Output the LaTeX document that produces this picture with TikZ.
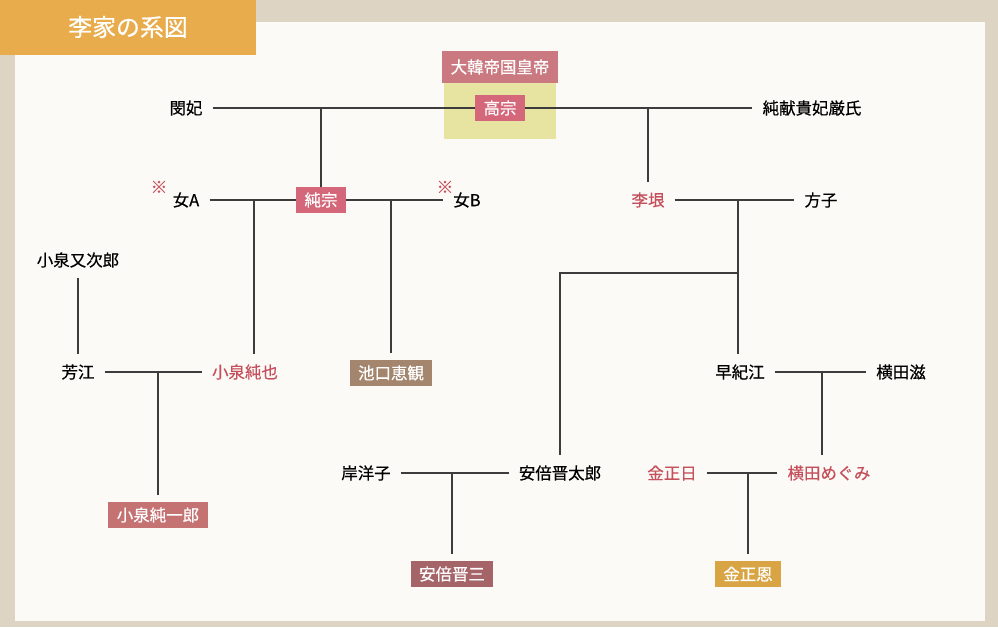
\documentclass[tikz,border=0pt]{standalone}
\usepackage{fontspec}
\setmainfont{Noto Sans CJK JP}[FakeBold=0.5]
\usepackage{tikz}

\definecolor{bgtan}{RGB}{221,212,196}
\definecolor{paper}{RGB}{252,250,247}
\definecolor{titleorange}{RGB}{232,172,76}
\definecolor{eraYellow}{RGB}{231,227,160}
\definecolor{emperorRose}{RGB}{201,121,127}
\definecolor{kingPink}{RGB}{212,103,121}
\definecolor{koizumiRose}{RGB}{197,114,115}
\definecolor{monkBrown}{RGB}{164,133,110}
\definecolor{abeRose}{RGB}{165,101,104}
\definecolor{kimGold}{RGB}{217,164,68}
\definecolor{nameRed}{RGB}{197,80,92}
\definecolor{lineGray}{RGB}{60,60,60}

\newcommand{\namesize}{\fontsize{11.7}{14}\selectfont}

\tikzset{
    person/.style={font=\namesize, inner xsep=0.25cm, inner ysep=7pt},
    redperson/.style={person, text=nameRed},
    boxed/.style={font=\namesize, text=white, inner xsep=0.21cm, inner ysep=0pt, minimum height=0.65cm},
    link/.style={draw=lineGray, line width=0.8pt},
    tobox/.style={link, shorten >=0.18cm},
    note/.style={font=\fontsize{12}{13}\selectfont, text=nameRed, inner sep=0pt}
}

\begin{document}
\begin{tikzpicture}[x=0.025cm, y=-0.025cm]
            \useasboundingbox (0,0) rectangle (998,627);
            \fill[bgtan] (0,0) rectangle (998,627);
            \fill[paper] (15,22) rectangle (985,621);
            \fill[titleorange] (0,0) rectangle (256,55);
            \node[font=\fontsize{17}{20}\selectfont, text=white] (title) at (128,27) {李家の系図};

            \begin{scope}
                \node[fill=eraYellow, minimum width=2.8cm, minimum height=1.4cm, inner sep=0pt] (era) at (500,111) {};
                \node[boxed, fill=emperorRose, minimum width=2.8cm, minimum height=0.8cm] (emperor) at (500,67) {大韓帝国皇帝};
                \node[boxed, fill=kingPink] (gojong) at (500,108) {高宗};
                \node[person] (minbi) at (186,108) {閔妃};
                \node[person] (lady) at (812,108) {純献貴妃厳氏};
                \draw[link] (minbi) -- (gojong);
                \draw[link] (gojong) -- (lady);
            \end{scope}

            \begin{scope}
                \node[person] (womanA) at (186,200) {女A};
                \node[boxed, fill=kingPink] (sunjong) at (321,200) {純宗};
                \node[person] (womanB) at (467,200) {女B};
                \node[note] (noteA) at (159,187) {※};
                \node[note] (noteB) at (445,187) {※};
                \node[redperson] (yeongchin) at (648,200) {李垠};
                \node[person] (masako) at (821,200) {方子};
                \draw[link] (womanA) -- (sunjong);
                \draw[link] (sunjong) -- (womanB);
                \draw[link] (yeongchin) -- (masako);
                \draw[link] (sunjong.north |- gojong) -- (sunjong.north);
                \draw[link] (yeongchin.north |- gojong) -- (yeongchin.north);
                \coordinate (dropA) at (254,200);
                \coordinate (dropB) at (391,200);
                \coordinate (dropC) at (738,200);
                \coordinate (fork) at (738,273);
            \end{scope}

            \begin{scope}
                \node[person] (matajiro) at (78,260) {小泉又次郎};
                \node[person] (yoshie) at (78,372) {芳江};
                \node[redperson] (junya) at (245,372) {小泉純也};
                \node[boxed, fill=monkBrown] (ikeguchi) at (391,373) {池口恵観};
                \node[person] (sakie) at (740,372) {早紀江};
                \node[person] (shigeru) at (901,372) {横田滋};
                \draw[link] (matajiro) -- (yoshie);
                \draw[link] (yoshie) -- (junya);
                \draw[link] (sakie) -- (shigeru);
                \draw[link] (dropA) -- (dropA |- junya.north);
                \draw[tobox] (dropB) -- (ikeguchi.north);
                \draw[link] (dropC) -- (dropC |- sakie.north);
                \coordinate (dropD) at (158,372);
                \coordinate (dropE) at (822,372);
            \end{scope}

            \begin{scope}
                \node[person] (yoko) at (366,473) {岸洋子};
                \node[person] (shintaro) at (560,473) {安倍晋太郎};
                \node[redperson] (jongil) at (672,473) {金正日};
                \node[redperson] (megumi) at (829,473) {横田めぐみ};
                \node[boxed, fill=koizumiRose] (junichiro) at (158,515) {小泉純一郎};
                \draw[link] (yoko) -- (shintaro);
                \draw[link] (jongil) -- (megumi);
                \draw[link] (fork) -| (shintaro.north);
                \draw[tobox] (dropD) -- (junichiro.north);
                \draw[link] (dropE) -- (dropE |- megumi.north);
                \coordinate (dropF) at (452,473);
                \coordinate (dropG) at (748,473);
            \end{scope}

            \begin{scope}
                \node[boxed, fill=abeRose] (shinzo) at (452,574) {安倍晋三};
                \node[boxed, fill=kimGold] (jongun) at (748,574) {金正恩};
                \draw[tobox] (dropF) -- (shinzo.north);
                \draw[tobox] (dropG) -- (jongun.north);
            \end{scope}
        \end{tikzpicture}
\end{document}
